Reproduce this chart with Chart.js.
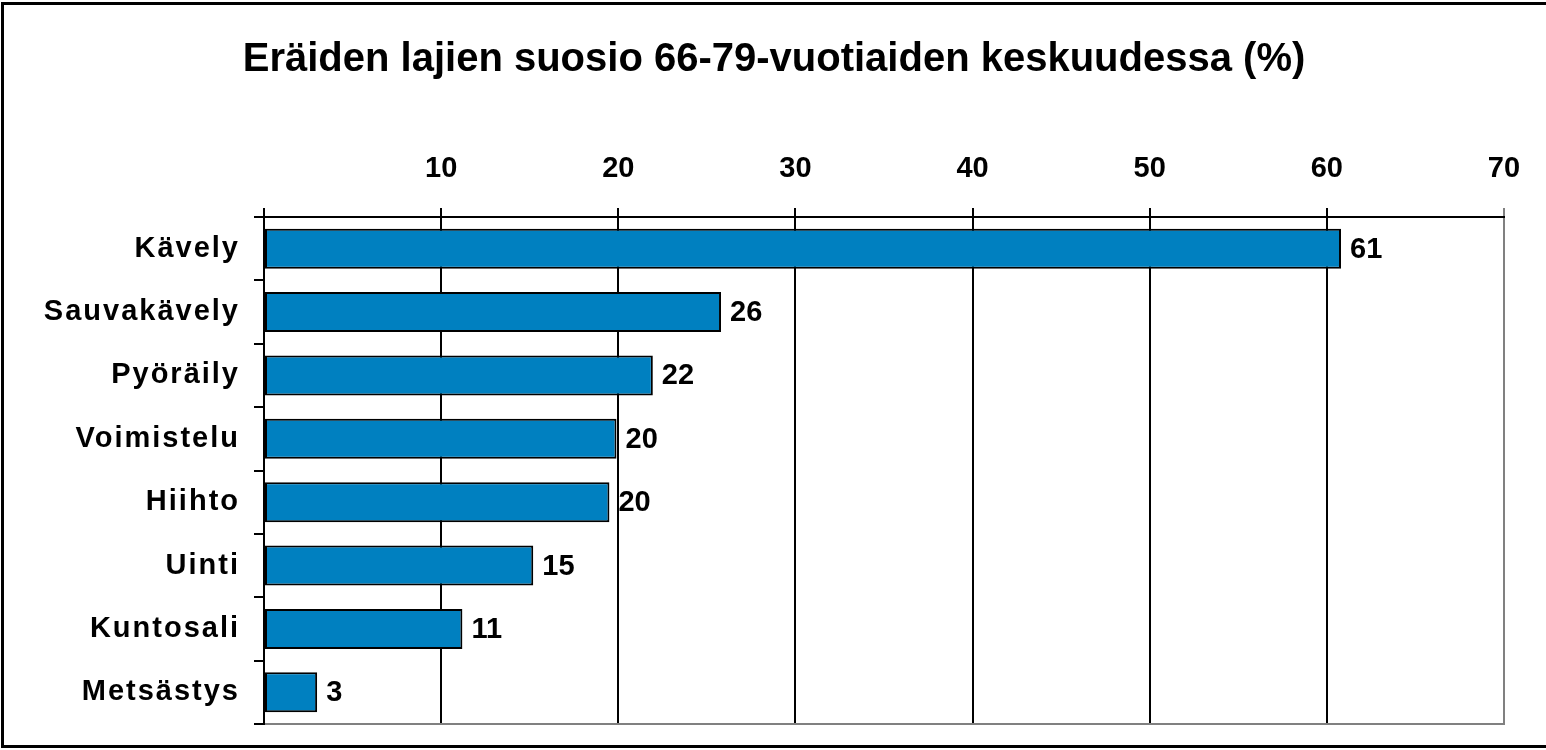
<!DOCTYPE html>
<html>
<head>
<meta charset="utf-8">
<script src="https://cdn.jsdelivr.net/npm/chart.js@4"></script>
<style>
    html, body { margin: 0; padding: 0; background: #fff; }
    #wrap { position: relative; width: 1546px; height: 750px; overflow: hidden; }
    #frame {
        position: absolute; left: 1px; top: 2px; width: 1550px; height: 746px;
        border: 3px solid #000; box-sizing: border-box; pointer-events: none;
    }
</style>
</head>
<body>
<div id="wrap">
    <canvas id="chart" width="1546" height="750"></canvas>
    <div id="frame"></div>
</div>
<script>
// Chart data
const categories = ["Kävely", "Sauvakävely", "Pyöräily", "Voimistelu", "Hiihto", "Uinti", "Kuntosali", "Metsästys"];
const values = [60.8, 25.8, 21.95, 19.9, 19.5, 15.2, 11.2, 3.0];
const xTicks = [0, 10, 20, 30, 40, 50, 60, 70];

const FONT = "'Liberation Sans', Arial, sans-serif";

// Value labels at bar ends, then widen letter spacing for the category labels (drawn after, z = 1)
const valueLabels = {
    id: "valueLabels",
    afterDatasetsDraw(chart) {
        const ctx = chart.ctx;
        const meta = chart.getDatasetMeta(0);
        ctx.save();
        ctx.font = "bold 29px " + FONT;
        ctx.fillStyle = "#000";
        ctx.textAlign = "left";
        ctx.textBaseline = "middle";
        meta.data.forEach((bar, i) => {
            ctx.fillText(String(Math.round(values[i])), bar.x + 9, bar.y + 1);
        });
        ctx.restore();
        ctx.letterSpacing = "2px";
    },
    afterDraw(chart) {
        chart.ctx.letterSpacing = "0px";
    }
};

new Chart(document.getElementById("chart"), {
    type: "bar",
    data: {
        labels: categories,
        datasets: [{
            data: values,
            backgroundColor: "#0080C0",
            borderColor: "#000",
            borderWidth: 2,
            borderSkipped: false,
            barPercentage: 0.63,
            categoryPercentage: 1.0
        }]
    },
    options: {
        indexAxis: "y",
        responsive: false,
        animation: false,
        layout: { padding: { left: 44, right: 42, top: 0, bottom: 26 } },
        plugins: {
            legend: { display: false },
            tooltip: { enabled: false },
            title: {
                display: true,
                text: "Eräiden lajien suosio 66-79-vuotiaiden keskuudessa (%)",
                color: "#000",
                font: { family: FONT, size: 40, weight: "bold" },
                padding: { top: 36, bottom: 0 }
            }
        },
        scales: {
            x: {
                position: "top",
                min: 0,
                max: 70,
                afterBuildTicks: axis => { axis.ticks = xTicks.map(v => ({ value: v })); },
                afterFit: axis => { axis.height = 133; },
                ticks: {
                    color: "#000",
                    font: { family: FONT, size: 29, weight: "bold" },
                    padding: 22,
                    maxRotation: 0,
                    callback: v => (v === 0 ? "" : v)
                },
                grid: {
                    color: c => (c.tick && c.tick.value === 70 ? "#808080" : "#000"),
                    lineWidth: 2,
                    tickLength: 9
                },
                border: { color: "#000", width: 2 }
            },
            x2: {
                position: "bottom",
                min: 0,
                max: 70,
                afterFit: axis => { axis.height = 0; },
                ticks: { display: false },
                grid: { display: false },
                border: { color: "#808080", width: 2 }
            },
            y: {
                afterFit: axis => {
                    axis.width = 220;
                    axis.paddingTop = 0;
                    axis.paddingBottom = 0;
                },
                ticks: {
                    z: 1,
                    color: "#000",
                    font: { family: FONT, size: 29, weight: "bold" },
                    padding: 14
                },
                grid: {
                    offset: true,
                    drawOnChartArea: false,
                    color: "#000",
                    lineWidth: 2,
                    tickLength: 10
                },
                border: { color: "#000", width: 2 }
            }
        }
    },
    plugins: [valueLabels]
});
</script>
</body>
</html>
